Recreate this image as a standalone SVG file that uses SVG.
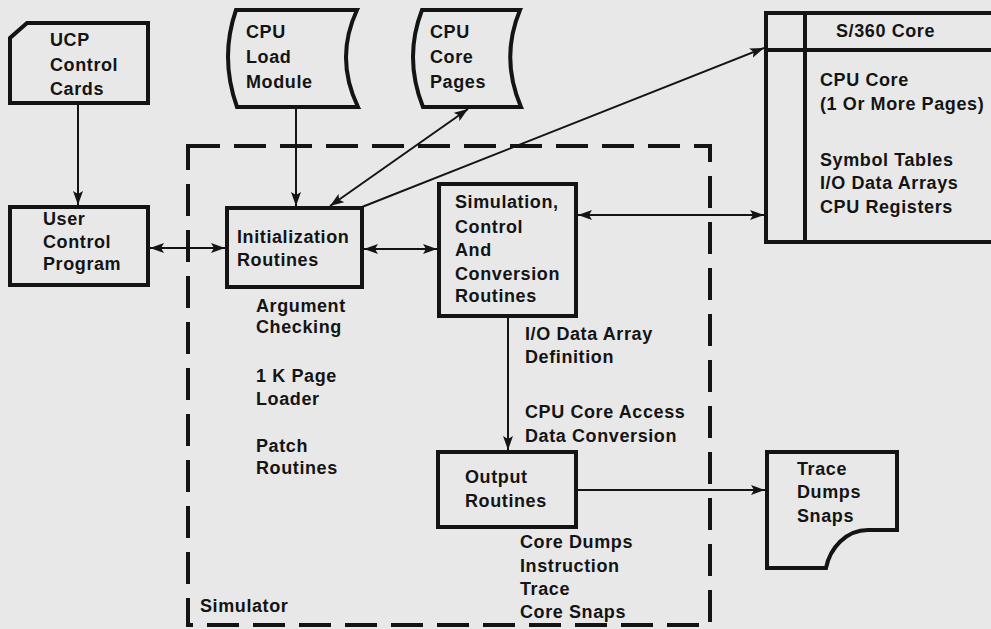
<svg xmlns="http://www.w3.org/2000/svg" width="991" height="629" viewBox="0 0 991 629">
<defs>
<style>
text{font-family:"Liberation Sans",Arial,sans-serif;font-weight:bold;font-size:18px;fill:#141414;letter-spacing:0.6px}
.box{fill:none;stroke:#141414;stroke-width:4;stroke-linejoin:miter}
.con{fill:none;stroke:#141414;stroke-width:2}
.dash{fill:none;stroke:#141414;stroke-width:4;stroke-dasharray:32 14}
</style>
<marker id="ah" viewBox="0 0 14 10" refX="14" refY="5" markerWidth="14" markerHeight="10" markerUnits="userSpaceOnUse" orient="auto-start-reverse">
<path d="M0,0 L14,5 L0,10 L3,5 Z" fill="#141414"/>
</marker>
</defs>
<rect width="991" height="629" fill="#e8e8e8"/>

<g id="simulator">
<rect class="dash" x="188" y="146" width="522" height="479"/>
<text x="200" y="612">Simulator</text>
</g>

<g id="ucp-cards">
<path class="box" d="M27,23 H148 V103 H10 V38 Z"/>
<text x="50" y="46">UCP</text>
<text x="50" y="71">Control</text>
<text x="50" y="95">Cards</text>
</g>

<g id="cpu-load-module">
<path class="box" d="M236,10 H357 Q334.5,58 358,107 H237 Q219.5,58 236,10 Z"/>
<text x="246" y="38">CPU</text>
<text x="246" y="63">Load</text>
<text x="246" y="88">Module</text>
</g>

<g id="cpu-core-pages">
<path class="box" d="M422,10 H520 Q500,58 521,107 H423 Q403.5,58 422,10 Z"/>
<text x="430" y="38">CPU</text>
<text x="430" y="63">Core</text>
<text x="430" y="88">Pages</text>
</g>

<g id="s360-core">
<rect class="box" x="766" y="13" width="240" height="229"/>
<line class="box" x1="805" y1="13" x2="805" y2="242"/>
<line class="box" x1="766" y1="50" x2="991" y2="50"/>
<text x="836" y="37">S/360 Core</text>
<text x="820" y="86">CPU Core</text>
<text x="820" y="110">(1 Or More Pages)</text>
<text x="820" y="166">Symbol Tables</text>
<text x="820" y="189">I/O Data Arrays</text>
<text x="820" y="213">CPU Registers</text>
</g>

<g id="user-control-program">
<rect class="box" x="10" y="207" width="138" height="78"/>
<text x="43" y="225">User</text>
<text x="43" y="248">Control</text>
<text x="43" y="270">Program</text>
</g>

<g id="initialization-routines">
<rect class="box" x="227" y="208" width="135" height="79"/>
<text x="237" y="243">Initialization</text>
<text x="237" y="266">Routines</text>
<text x="256" y="312">Argument</text>
<text x="256" y="333">Checking</text>
<text x="256" y="382">1 K Page</text>
<text x="256" y="405">Loader</text>
<text x="256" y="452">Patch</text>
<text x="256" y="474">Routines</text>
</g>

<g id="simulation-routines">
<rect class="box" x="439" y="184" width="137" height="132"/>
<text x="455" y="208">Simulation,</text>
<text x="455" y="233">Control</text>
<text x="455" y="256">And</text>
<text x="455" y="280">Conversion</text>
<text x="455" y="302">Routines</text>
</g>

<g id="output-routines">
<rect class="box" x="438" y="452" width="138" height="75"/>
<text x="465" y="483">Output</text>
<text x="465" y="507">Routines</text>
<text x="520" y="548">Core Dumps</text>
<text x="520" y="572">Instruction</text>
<text x="520" y="595">Trace</text>
<text x="520" y="618">Core Snaps</text>
</g>

<g id="trace-dumps-snaps">
<path class="box" d="M767,452 H897 V530 H868 C846,530 830,548 826,568 H767 Z"/>
<text x="797" y="475">Trace</text>
<text x="797" y="498">Dumps</text>
<text x="797" y="522">Snaps</text>
</g>

<g id="connectors">
<line class="con" x1="78" y1="103" x2="78" y2="205" marker-end="url(#ah)"/>
<line class="con" x1="296" y1="107" x2="296" y2="206" marker-end="url(#ah)"/>
<line class="con" x1="150" y1="248" x2="225" y2="248" marker-start="url(#ah)" marker-end="url(#ah)"/>
<line class="con" x1="364" y1="249" x2="437" y2="249" marker-start="url(#ah)" marker-end="url(#ah)"/>
<line class="con" x1="330" y1="206" x2="468" y2="109" marker-start="url(#ah)" marker-end="url(#ah)"/>
<line class="con" x1="362" y1="207" x2="764" y2="48" marker-end="url(#ah)"/>
<line class="con" x1="578" y1="215" x2="764" y2="215" marker-start="url(#ah)" marker-end="url(#ah)"/>
<line class="con" x1="508" y1="318" x2="508" y2="450" marker-end="url(#ah)"/>
<text x="525" y="340">I/O Data Array</text>
<text x="525" y="363">Definition</text>
<text x="525" y="418">CPU Core Access</text>
<text x="525" y="442">Data Conversion</text>
<line class="con" x1="578" y1="490" x2="765" y2="490" marker-end="url(#ah)"/>
</g>
</svg>
